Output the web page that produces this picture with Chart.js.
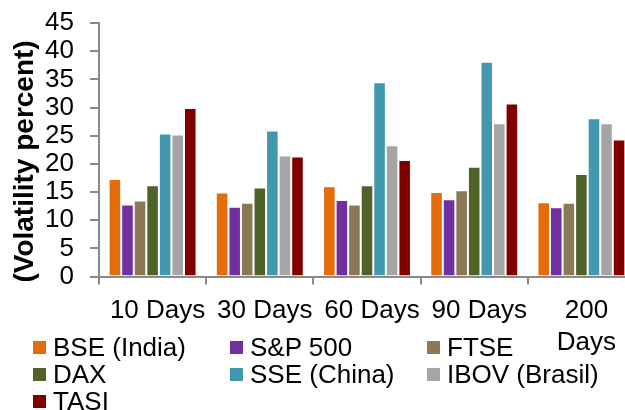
<!DOCTYPE html>
<html>
<head>
<meta charset="utf-8">
<script src="https://cdn.jsdelivr.net/npm/chart.js@4.4.1/dist/chart.umd.min.js"></script>
<style>
  html, body { margin: 0; padding: 0; overflow: hidden; background: #fff; width: 625px; height: 410px; }
  #wrap { position: relative; width: 625px; height: 410px; overflow: hidden; }
  #chart { position: absolute; left: 0; top: 0; }
  #legend {
    position: absolute; left: 33px; top: 334px;
    display: grid; grid-template-columns: 197px 197px 197px; grid-auto-rows: 27px;
    font: 26px "Liberation Sans", Arial, sans-serif; color: #000;
  }
  .item { display: flex; align-items: center; white-space: nowrap; line-height: 27px; }
  .swatch { width: 13px; height: 13px; margin-right: 7px; flex: none; }
</style>
</head>
<body>
<div id="wrap">
  <canvas id="chart" width="645" height="410"></canvas>
  <div id="legend"></div>
</div>
<script>
// Holding periods (x categories); the last one wraps onto two lines
const categories = ['10 Days', '30 Days', '60 Days', '90 Days', ['200', 'Days']];

// Market indices and their bar colours
const seriesNames = ['BSE (India)', 'S&P 500', 'FTSE', 'DAX', 'SSE (China)', 'IBOV (Brasil)', 'TASI'];
const seriesColors = ['#E46C0A', '#7030A0', '#8C7855', '#4F6228', '#4198AF', '#A5A5A5', '#800000'];

// Volatility (percent) per index, one value per holding period
const bse  = [17.3, 14.9, 16.0, 15.0, 13.2];
const sp   = [12.8, 12.4, 13.6, 13.7, 12.3];
const ftse = [13.5, 13.1, 12.8, 15.3, 13.1];
const dax  = [16.2, 15.8, 16.2, 19.5, 18.2];
const sse  = [25.4, 25.9, 34.5, 38.1, 28.1];
const ibov = [25.2, 21.5, 23.3, 27.2, 27.2];
const tasi = [29.9, 21.3, 20.7, 30.7, 24.3];

// Y-axis range and step
const yMin = 0, yMax = 45, yStep = 5;
// trailing spaces nudge the rotated title a little towards the baseline
const yTitle = '(Volatility percent)   ';

const seriesValues = [bse, sp, ftse, dax, sse, ibov, tasi];
const FONT = '"Liberation Sans", Arial, sans-serif';
const AXIS_GREY = '#898989';

const datasets = seriesNames.map((name, i) => ({
  label: name,
  data: seriesValues[i],
  backgroundColor: seriesColors[i],
  borderColor: 'rgba(255,255,255,0.55)',
  borderWidth: 1,
  categoryPercentage: 0.82,
  barPercentage: 1.0
}));

const chart = new Chart(document.getElementById('chart'), {
  type: 'bar',
  data: { labels: categories, datasets },
  options: {
    responsive: false,
    animation: false,
    layout: { padding: { left: 0, right: 10, top: 23, bottom: 0 } },
    plugins: { legend: { display: false }, tooltip: { enabled: false } },
    scales: {
      x: {
        afterFit: s => { s.height = 133.5; },
        grid: { drawOnChartArea: false, drawTicks: true, tickLength: 8, color: AXIS_GREY, lineWidth: 2 },
        border: { color: AXIS_GREY, width: 2 },
        ticks: {
          color: '#000', padding: 10, labelOffset: 5, maxRotation: 0, autoSkip: false,
          font: { family: FONT, size: 26, lineHeight: 1.25 }
        }
      },
      y: {
        min: yMin, max: yMax,
        // fixed axis width; the top tick label may overhang the plot area
        afterFit: s => { s.width = 99; s.paddingTop = 0; s.paddingBottom = 0; },
        grid: { drawOnChartArea: false, drawTicks: true, tickLength: 9, color: AXIS_GREY, lineWidth: 2 },
        border: { color: AXIS_GREY, width: 2 },
        ticks: { stepSize: yStep, autoSkip: false, color: '#000', padding: 16, font: { family: FONT, size: 26 } },
        title: {
          display: true, text: yTitle, color: '#000',
          font: { family: FONT, size: 28, weight: 'bold' },
          padding: { top: 8, bottom: 2 }
        }
      }
    }
  }
});

// Legend in three columns, built from the chart's datasets
const legendEl = document.getElementById('legend');
chart.data.datasets.forEach(ds => {
  const item = document.createElement('div');
  item.className = 'item';
  const sw = document.createElement('span');
  sw.className = 'swatch';
  sw.style.background = ds.backgroundColor;
  const txt = document.createElement('span');
  txt.textContent = ds.label;
  item.appendChild(sw);
  item.appendChild(txt);
  legendEl.appendChild(item);
});
</script>
</body>
</html>
